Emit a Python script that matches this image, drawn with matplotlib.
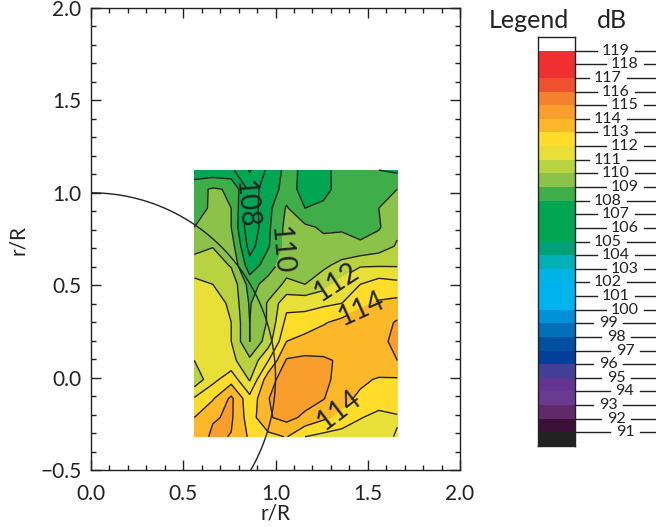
import numpy as np
import matplotlib
matplotlib.use("Agg")
import matplotlib.pyplot as plt
from matplotlib.ticker import MultipleLocator

plt.rcParams['font.family'] = ['Lato', 'DejaVu Sans']

W, H = 656, 527

# grid of the measured field
r_x = [0.56, 0.66, 0.76, 0.86, 0.96, 1.06, 1.16, 1.26, 1.36, 1.46, 1.56, 1.66]
r_y = [1.123, 1.02, 0.917, 0.814, 0.711, 0.608, 0.505, 0.402, 0.299, 0.196,
       0.093, -0.01, -0.113, -0.216, -0.32]
spl = [
    [108.3, 108.3, 108.2, 106.9, 108.2, 109.3, 108.8, 108.8, 109.3, 109.5, 109.0, 108.8],
    [109.7, 110.1, 109.9, 107.7, 108.3, 109.5, 108.6, 108.7, 109.4, 109.6, 109.8, 110.0],
    [109.5, 110.2, 110.0, 107.4, 108.7, 110.1, 109.0, 109.2, 109.5, 109.7, 110.0, 110.5],
    [110.0, 110.4, 110.0, 107.2, 108.8, 110.3, 110.2, 109.85, 109.9, 109.8, 109.9, 110.8],
    [110.7, 110.95, 110.5, 107.6, 108.9, 110.3, 110.5, 110.3, 110.3, 110.1, 110.5, 111.1],
    [111.4, 111.6, 110.9, 108.4, 109.5, 110.6, 110.7, 110.8, 111.3, 111.9, 111.9, 111.9],
    [112.3, 112.0, 111.7, 109.6, 110.4, 111.2, 111.0, 111.6, 112.4, 113.0, 113.5, 113.3],
    [112.5, 112.5, 111.8, 109.9, 111.1, 112.7, 112.7, 112.8, 113.0, 113.8, 114.1, 114.3],
    [112.6, 112.7, 112.0, 110.0, 111.1, 113.3, 113.4, 113.9, 114.3, 114.5, 114.6, 115.1],
    [112.6, 112.7, 112.0, 110.0, 111.5, 114.0, 114.4, 114.6, 114.7, 114.7, 114.8, 115.2],
    [112.0, 112.6, 112.3, 111.2, 112.95, 115.1, 115.2, 115.1, 114.9, 114.8, 114.8, 115.0],
    [111.3, 112.7, 113.6, 111.9, 114.6, 115.5, 115.5, 115.2, 114.7, 114.2, 113.9, 113.9],
    [113.1, 113.9, 115.2, 113.3, 114.95, 115.8, 115.4, 115.05, 114.3, 113.8, 113.5, 113.5],
    [114.0, 114.9, 115.15, 113.5, 114.9, 115.3, 114.8, 114.2, 113.7, 113.05, 112.7, 112.9],
    [114.3, 115.2, 114.95, 113.85, 113.7, 114.05, 113.0, 112.7, 112.5, 112.4, 112.6, 113.1],
]

# legend, bottom to top
legend_levels = list(range(91, 120))
band_colors = [
    '#222222', '#3a1038', '#602a6a', '#683a90', '#633490', '#434098',
    '#00409c', '#0050a2', '#0070b8', '#0090d8', '#00b4f0', '#00b4f0',
    '#00b4e6', '#00b0b4', '#00a078', '#00a651', '#00a651', '#00a651',
    '#3fae49', '#8bc34a', '#b9d340', '#e8e038', '#ffdd2a', '#fdb82a',
    '#f99d2d', '#f58030', '#ee5030', '#f03030', '#f03030', '#ffffff',
]

fig = plt.figure(figsize=(W / 100, H / 100), dpi=100)

# main plot
ax = fig.add_axes([91 / W, 1 - 470 / H, 369 / W, 462 / H])
X, Y = np.meshgrid(r_x, r_y)
Z = np.array(spl)
fill_levels = np.array(legend_levels) + 1
ax.contourf(X, Y, Z, levels=fill_levels, colors=band_colors[1:29])
ax.contour(X, Y, Z, levels=[105, 106, 107, 109, 111, 113, 115, 116], colors='#222222', linewidths=1.0)
cs = ax.contour(X, Y, Z, levels=[108, 110, 112, 114], colors='#222222', linewidths=1.0)


def to_data(px, py):
    return (px - 91) / 184.5, (470 - py) / 184.8 - 0.5


ax.clabel(cs, fmt='%d', fontsize=20, colors='#222222',
          manual=[to_data(252, 205), to_data(279, 250), to_data(337, 283),
                  to_data(362, 310), to_data(335, 405)])
# the two in the trough read downwards
cs.labelTexts[0].set_rotation(-85)
cs.labelTexts[1].set_rotation(-85)

# unit circle
theta = np.linspace(np.pi / 2, -np.pi / 6, 200)
ax.plot(np.cos(theta), np.sin(theta), color='#222222', lw=1.0)

ax.set_xlim(0, 2)
ax.set_ylim(-0.5, 2)
ax.set_xticks([0, 0.5, 1, 1.5, 2])
ax.set_yticks([-0.5, 0, 0.5, 1, 1.5, 2])
ax.set_xticklabels(['0.0', '0.5', '1.0', '1.5', '2.0'])
ax.set_yticklabels(['\u22120.5', '0.0', '0.5', '1.0', '1.5', '2.0'])
ax.xaxis.set_minor_locator(MultipleLocator(0.1))
ax.yaxis.set_minor_locator(MultipleLocator(0.1))
ax.tick_params(which='major', direction='in', length=7, width=1, labelsize=15, top=True, right=True,
               color='#222222', labelcolor='#222222', pad=7)
ax.tick_params(axis='x', which='major', pad=10)
ax.tick_params(which='minor', direction='in', length=3.5, width=1, top=True, right=True, color='#222222')
for s in ax.spines.values():
    s.set_linewidth(1)
    s.set_color('#222222')

fig.text(276 / W, 1 - 513 / H, 'r/R', fontsize=15, color='#222222', ha='center', va='center')
fig.text(18 / W, 1 - 240 / H, 'r/R', fontsize=15, color='#222222', ha='center', va='center', rotation=90)

# legend bar
lax = fig.add_axes([538 / W, 1 - 446 / H, 37 / W, 409 / H])
edges = np.arange(90, 121)
lax.pcolormesh([0, 1], edges, np.arange(30).reshape(-1, 1),
               cmap=matplotlib.colors.ListedColormap(band_colors), shading='flat')
lax.set_xlim(0, 1)
lax.set_ylim(90, 120)
lax.set_xticks([])
lax.set_yticks([])
for s in lax.spines.values():
    s.set_linewidth(1)
    s.set_color('#222222')

fig.text(489 / W, 1 - 20 / H, 'Legend', fontsize=18, color='#222222', va='center')
fig.text(597 / W, 1 - 20 / H, 'dB', fontsize=18, color='#222222', va='center')

# legend ticks with labels stepping across
centers = {0: 616, 1: 625, 2: 608}
for i, lev in enumerate(legend_levels[::-1]):
    py = 37 + (120 - lev) * 409 / 30
    cx = centers[i % 3]
    w = 15 if lev >= 100 else 11
    fig.add_artist(plt.Line2D([575 / W, (cx - w - 4) / W], [1 - py / H] * 2,
                              color='#222222', lw=1))
    fig.add_artist(plt.Line2D([(cx + w + 4) / W, 1], [1 - py / H] * 2,
                              color='#222222', lw=1))
    fig.text(cx / W, 1 - py / H, str(lev), fontsize=11.5, color='#222222',
             ha='center', va='center')

fig.savefig('out.png', dpi=100)
